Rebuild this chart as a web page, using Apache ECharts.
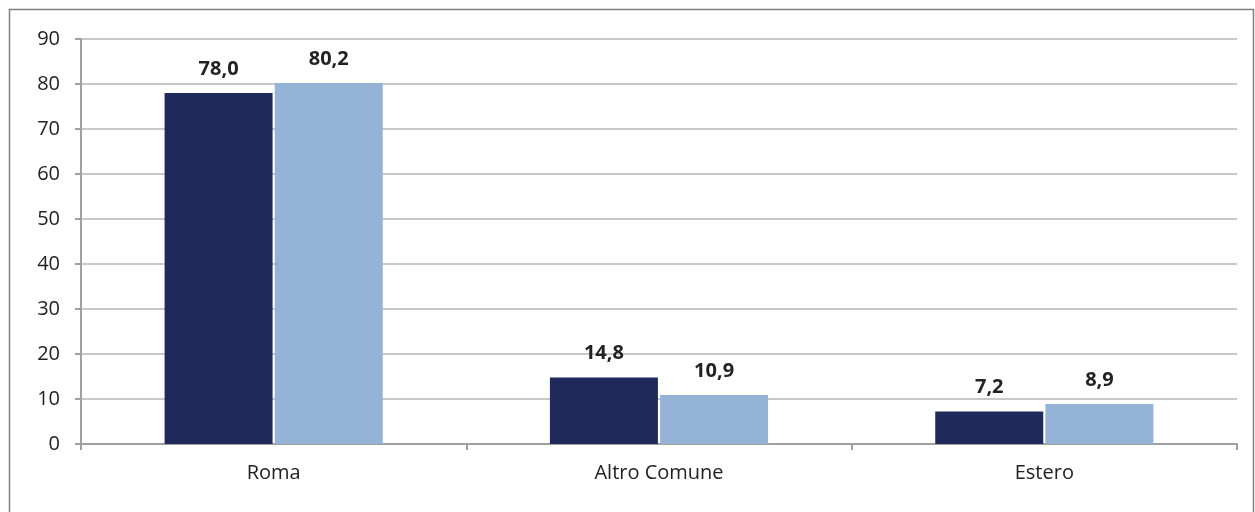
<!DOCTYPE html>
<html>
<head>
<meta charset="utf-8">
<script src="https://cdn.jsdelivr.net/npm/echarts@6/dist/echarts.min.js"></script>
<style>
  html, body { margin: 0; padding: 0; background: #fff; }
  #chart { width: 1255px; height: 512px; }
</style>
</head>
<body>
<div id="chart"></div>
<script>
// Categories and the two series of percentages
const categories = ['Roma', 'Altro Comune', 'Estero'];
const serieA = [78.0, 14.8, 7.2];
const serieB = [80.2, 10.9, 8.9];

const fontFamily = "'Open Sans', 'Noto Sans', sans-serif";
const fmt = p => p.value.toFixed(1).replace('.', ',');

const valueLabel = {
  show: true, position: 'top', distance: 14, formatter: fmt,
  fontSize: 20, fontWeight: 'bold', color: '#222', fontFamily
};

const chart = echarts.init(document.getElementById('chart'));
chart.setOption({
  backgroundColor: '#ffffff',
  animation: false,
  graphic: [{
    type: 'rect',
    shape: { x: 9.5, y: 9.5, width: 1244, height: 520 },
    style: { fill: 'none', stroke: '#808080', lineWidth: 1.5 },
    silent: true
  }],
  grid: { left: 81, right: 18, top: 39, bottom: 68 },
  xAxis: {
    type: 'category',
    data: categories,
    axisLine: { lineStyle: { color: '#a0a0a0', width: 2 } },
    axisTick: { show: true, length: 6, lineStyle: { color: '#a0a0a0', width: 2 } },
    axisLabel: { color: '#222', fontSize: 20, fontFamily, margin: 19 }
  },
  yAxis: {
    type: 'value',
    min: 0, max: 90, interval: 10,
    axisLine: { show: true, lineStyle: { color: '#a0a0a0', width: 2 } },
    axisTick: { show: true, length: 6, lineStyle: { color: '#a0a0a0', width: 2 } },
    splitLine: { lineStyle: { color: '#c8c8c8', width: 2 } },
    axisLabel: { color: '#222', fontSize: 20, fontFamily, margin: 21 }
  },
  series: [
    {
      type: 'bar', data: serieA, barWidth: 108, barGap: '2%',
      itemStyle: { color: '#1f295c' },
      label: valueLabel
    },
    {
      type: 'bar', data: serieB, barWidth: 108,
      itemStyle: { color: '#95b3d7' },
      label: valueLabel
    }
  ]
});
</script>
</body>
</html>
